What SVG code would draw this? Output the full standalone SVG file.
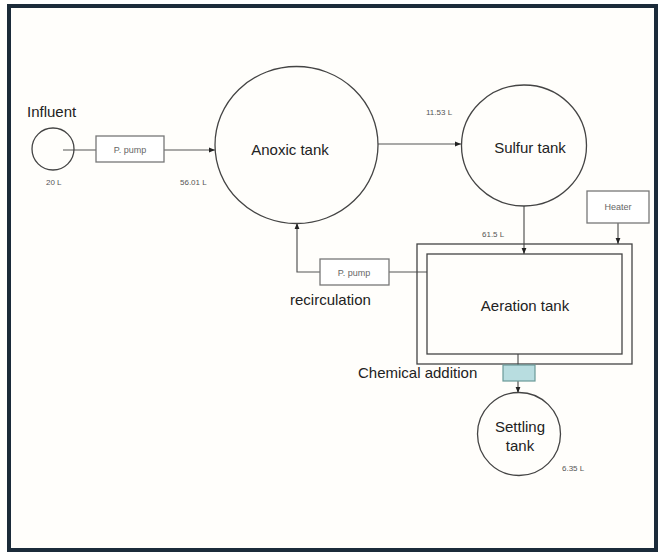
<svg xmlns="http://www.w3.org/2000/svg" width="659" height="553" viewBox="0 0 659 553">
<defs>
<style>
.tank{fill:none;stroke:#444;stroke-width:1.3}
.box{fill:#fff;stroke:#777;stroke-width:1.3}
.ln{fill:none;stroke:#555;stroke-width:1.2}
.big{font-family:"Liberation Sans",Arial,sans-serif;font-size:15px;fill:#222}
.sm{font-family:"Liberation Sans",Arial,sans-serif;font-size:9px;fill:#666}
.vol{font-family:"Liberation Sans",Arial,sans-serif;font-size:8px;fill:#555}
</style>
<marker id="arr" viewBox="0 0 10 10" refX="10" refY="5" markerWidth="6" markerHeight="6" orient="auto" markerUnits="userSpaceOnUse">
<path d="M0,1 L10,5 L0,9 z" fill="#222"/>
</marker>
</defs>
<rect x="0" y="0" width="659" height="553" fill="#fff"/>
<rect x="9" y="6" width="647" height="544" fill="#fffefb" stroke="#1b2b3a" stroke-width="4"/>

<g id="connectors">
<line class="ln" x1="63" y1="150" x2="96" y2="150"/>
<line class="ln" x1="164" y1="150" x2="215" y2="150" marker-end="url(#arr)"/>
<line class="ln" x1="378" y1="144" x2="461" y2="144" marker-end="url(#arr)"/>
<line class="ln" x1="524" y1="206" x2="524" y2="254" marker-end="url(#arr)"/>
<line class="ln" x1="618" y1="223" x2="618" y2="244" marker-end="url(#arr)"/>
<line class="ln" x1="427" y1="272" x2="389" y2="272"/>
<polyline class="ln" points="320,272 297,272 297,223" marker-end="url(#arr)"/>
<line class="ln" x1="518" y1="354" x2="518" y2="365"/>
<line class="ln" x1="518" y1="381" x2="518" y2="393" marker-end="url(#arr)"/>
</g>

<g id="influent">
<circle class="tank" cx="53" cy="149" r="21"/>
<text class="big" x="27" y="117">Influent</text>
<text class="vol" x="46" y="185">20 L</text>
</g>

<g id="pump1">
<rect class="box" x="96" y="136" width="68" height="26"/>
<text class="sm" x="130" y="153" text-anchor="middle">P. pump</text>
</g>

<g id="anoxic">
<ellipse class="tank" cx="296.5" cy="145" rx="81.5" ry="78.5"/>
<text class="big" x="290" y="155" text-anchor="middle">Anoxic tank</text>
<text class="vol" x="180" y="185">56.01 L</text>
</g>

<g id="sulfur">
<ellipse class="tank" cx="524" cy="145.5" rx="62.5" ry="60.5"/>
<text class="big" x="530" y="153" text-anchor="middle">Sulfur tank</text>
<text class="vol" x="426" y="115">11.53 L</text>
</g>

<g id="heater">
<rect class="box" x="587" y="191" width="62" height="32"/>
<text class="sm" x="618" y="210" text-anchor="middle">Heater</text>
</g>

<g id="aeration">
<rect class="tank" x="417" y="244" width="215" height="120" stroke="#777"/>
<rect class="tank" x="427" y="254" width="195" height="100" stroke="#777"/>
<text class="big" x="525" y="311" text-anchor="middle">Aeration tank</text>
<text class="vol" x="482" y="237">61.5 L</text>
</g>

<g id="pump2">
<rect class="box" x="320" y="259" width="69" height="26"/>
<text class="sm" x="354" y="276" text-anchor="middle">P. pump</text>
<text class="big" x="290" y="305">recirculation</text>
</g>

<g id="chemical">
<rect x="503" y="365" width="32" height="16" fill="#b8dde0" stroke="#6a9a98" stroke-width="1.2"/>
<text class="big" x="358" y="378">Chemical addition</text>
</g>

<g id="settling">
<circle class="tank" cx="519" cy="434" r="41.5"/>
<text class="big" x="520" y="432" text-anchor="middle">Settling</text>
<text class="big" x="520" y="451" text-anchor="middle">tank</text>
<text class="vol" x="562" y="471">6.35 L</text>
</g>
</svg>
